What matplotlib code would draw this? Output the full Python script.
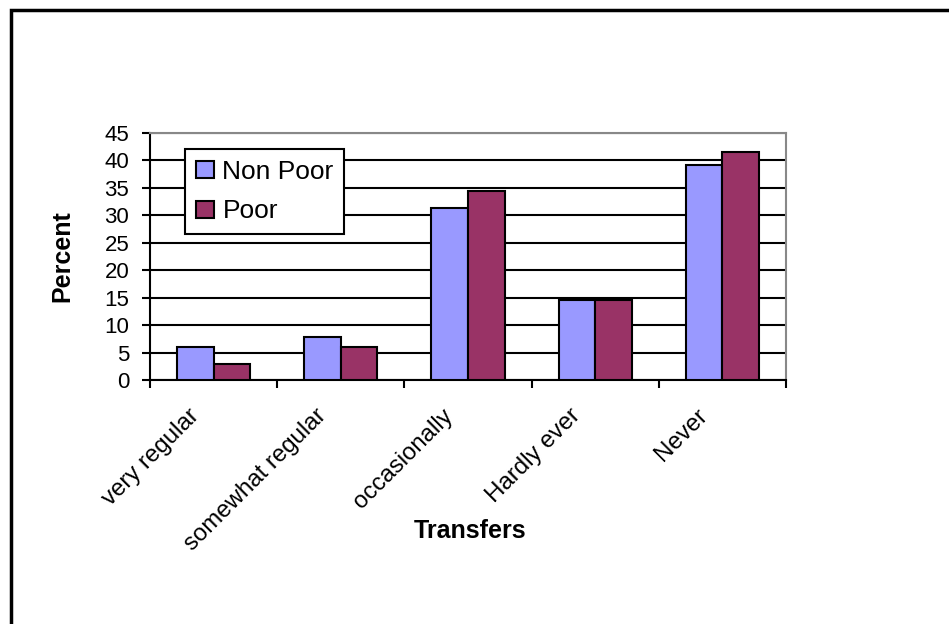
import matplotlib
matplotlib.use("Agg")
import matplotlib.pyplot as plt
import numpy as np
from matplotlib.patches import Rectangle
from matplotlib.transforms import ScaledTranslation

categories = ["very regular", "somewhat regular", "occasionally", "Hardly ever", "Never"]
non_poor = [6.0, 7.8, 31.3, 14.5, 39.2]
poor = [2.9, 6.0, 34.5, 14.5, 41.5]
series_names = ["Non Poor", "Poor"]
y_ticks = [0, 5, 10, 15, 20, 25, 30, 35, 40, 45]

plt.rcParams['font.family'] = ['Liberation Sans', 'DejaVu Sans']

fig = plt.figure(figsize=(9.49, 6.24), dpi=100)
ax = fig.add_axes([150/949, 1-380/624, 636/949, 247/624])

x = np.arange(len(categories))
w = 0.288
ax.bar(x - w/2, non_poor, w, color='#9999FF', edgecolor='black', linewidth=1.5, label=series_names[0], zorder=3)
ax.bar(x + w/2, poor, w, color='#993366', edgecolor='black', linewidth=1.5, label=series_names[1], zorder=3)

ax.set_xlim(-0.5, len(categories) - 0.5)
ax.set_ylim(0, 45)
ax.set_yticks(y_ticks)
ax.yaxis.grid(True, color='black', linewidth=1.5, zorder=0)
ax.set_axisbelow(True)

ax.set_xticks(x)
ax.set_xticklabels(categories, rotation=45, ha='right', rotation_mode='anchor', fontsize=17.3)
ax.tick_params(axis='x', length=0, pad=18)
ax.set_xticks(np.arange(-0.5, len(categories)), minor=True)
ax.tick_params(axis='x', which='minor', length=6, width=1.5, direction='out')
ax.tick_params(axis='y', labelsize=16, length=6, width=1.5, direction='out', pad=9)
off = ScaledTranslation(-26/100, 0/100, fig.dpi_scale_trans)
for lab in ax.get_xticklabels():
    lab.set_transform(lab.get_transform() + off)

for s in ['left', 'bottom']:
    ax.spines[s].set_color('black')
    ax.spines[s].set_linewidth(1.5)
for s in ['top', 'right']:
    ax.spines[s].set_color('#888888')
    ax.spines[s].set_linewidth(1.5)

ax.set_ylabel("Percent", fontsize=18, fontweight='bold')
ax.yaxis.set_label_coords((62-150)/636, 0.5)
ax.yaxis.label.set_va('center')
ax.set_xlabel("Transfers", fontsize=18, fontweight='bold')
ax.xaxis.set_label_coords((470-150)/636, -(531-380)/247)
ax.xaxis.label.set_va('center')

leg = ax.legend(loc='upper left', bbox_to_anchor=(35/636, 1-16/247), fontsize=19,
                frameon=True, fancybox=False, edgecolor='black', framealpha=1,
                handlelength=0.68, handleheight=0.62, handletextpad=0.34, borderpad=0.4,
                labelspacing=0.6, borderaxespad=0)
leg.get_frame().set_linewidth(1.5)

fig.patches.append(Rectangle((11/949, -0.1), 1.2, 1.1 - 10/624, transform=fig.transFigure,
                             fill=False, edgecolor='black', linewidth=2.5))

fig.savefig("out.png", dpi=100)
